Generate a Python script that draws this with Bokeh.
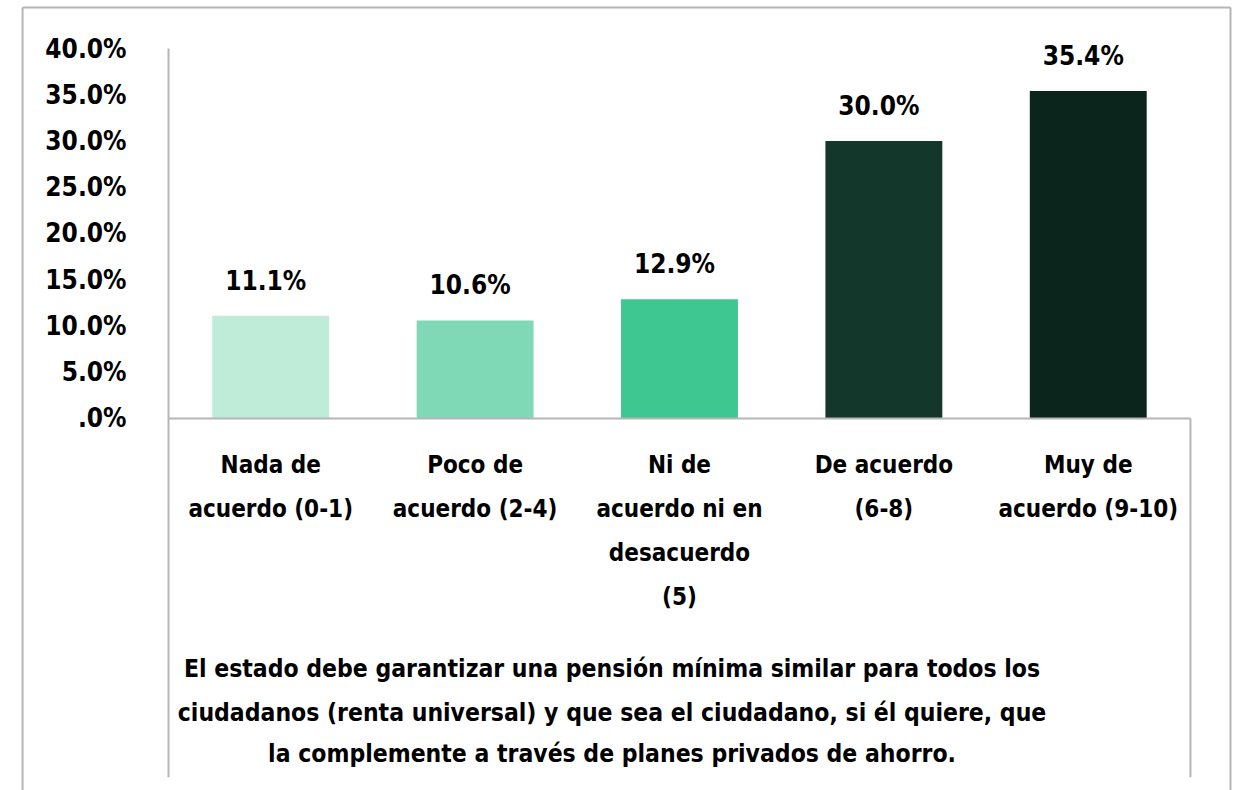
from bokeh.plotting import figure
from bokeh.models import Range1d, FixedTicker
from bokeh.core.properties import value
from bokeh.embed import file_html
from bokeh.resources import INLINE

categories = ["Nada de acuerdo (0-1)", "Poco de acuerdo (2-4)", "Ni de acuerdo ni en desacuerdo (5)",
              "De acuerdo (6-8)", "Muy de acuerdo (9-10)"]
category_labels = ["Nada de\nacuerdo (0-1)", "Poco de\nacuerdo (2-4)",
                   "Ni de\nacuerdo ni en\ndesacuerdo\n(5)", "De acuerdo\n(6-8)", "Muy de\nacuerdo (9-10)"]
values = [11.1, 10.6, 12.9, 30.0, 35.4]
value_labels = ["11.1%", "10.6%", "12.9%", "30.0%", "35.4%"]
colors = ["#bfecd9", "#80d9b6", "#3ec791", "#13372a", "#0c251c"]
y_ticks = [0, 5, 10, 15, 20, 25, 30, 35, 40]
y_tick_labels = [".0%", "5.0%", "10.0%", "15.0%", "20.0%", "25.0%", "30.0%", "35.0%", "40.0%"]
title_lines = ["El estado debe garantizar una pensión mínima similar para todos los",
               "ciudadanos (renta universal) y que sea el ciudadano, si él quiere, que",
               "la complemente a través de planes privados de ahorro."]

FONT = "DejaVu Sans Condensed"
FS_NUM = "26px"
FS_CAT = "24px"
FS_TITLE = "24.5px"
GRAY = "#b5b5b5"

n = len(categories)
xc = [i + 0.5 for i in range(n)]

p = figure(x_range=Range1d(-0.822, 5.240), y_range=Range1d(-40.22, 45.19),
           width=1239, height=790, output_backend="svg", toolbar_location=None,
           min_border=0)
p.outline_line_color = None
p.xgrid.visible = False
p.ygrid.visible = False
p.background_fill_color = "white"
p.border_fill_color = "white"

# outer chart border
p.segment(x0=[-0.714, 5.196, -0.714], y0=[-41, -41, 44.43], x1=[-0.714, 5.196, 5.196], y1=[44.43, 44.43, 44.43],
          line_color=GRAY, line_width=2)
# box under the category axis
p.segment(x0=[0, n], y0=[0, 0], x1=[0, n], y1=[-38.8, -38.8], line_color=GRAY, line_width=2)

p.vbar(x=xc, top=values, width=0.572, fill_color=colors, line_color=None)

p.text(x=xc, y=values, text=value_labels, text_align="center", text_baseline="middle",
       x_offset=-5, y_offset=-35, text_font=value(FONT), text_font_size=FS_NUM,
       text_font_style="bold", text_color="black")

# category labels (multi-line)
lx, ly, lt = [], [], []
for i, lab in enumerate(category_labels):
    for k, line in enumerate(lab.split("\n")):
        lx.append(xc[i]); ly.append(-5.08 - 4.757 * k); lt.append(line)
p.text(x=lx, y=ly, text=lt, text_align="center", text_baseline="middle",
       text_font=value(FONT), text_font_size=FS_CAT, text_font_style="bold", text_color="black")

# bottom title
ty = [-27.03, -31.78, -36.22]
p.text(x=[2.17] * len(title_lines), y=ty, text=title_lines, text_align="center", text_baseline="middle",
       text_font=value(FONT), text_font_size=FS_TITLE, text_font_style="bold", text_color="black")

# y axis
ya = p.yaxis[0]
ya.fixed_location = 0
ya.bounds = (0, 40)
ya.ticker = FixedTicker(ticks=y_ticks)
ya.major_label_overrides = {t: l for t, l in zip(y_ticks, y_tick_labels)}
ya.major_tick_line_color = None
ya.minor_tick_line_color = None
ya.major_tick_out = 0
ya.major_tick_in = 0
ya.major_label_standoff = 42
ya.axis_line_color = GRAY
ya.axis_line_width = 2
ya.major_label_text_font = FONT
ya.major_label_text_font_size = FS_NUM
ya.major_label_text_font_style = "bold"
ya.major_label_text_color = "black"

# x axis (baseline only; category names drawn as text above)
xa = p.xaxis[0]
xa.fixed_location = 0
xa.bounds = (0, n)
xa.ticker = FixedTicker(ticks=[])
xa.major_tick_line_color = None
xa.minor_tick_line_color = None
xa.major_tick_out = 0
xa.major_tick_in = 0
xa.axis_line_color = GRAY
xa.axis_line_width = 2

open("out.html", "w").write(file_html(p, INLINE))
